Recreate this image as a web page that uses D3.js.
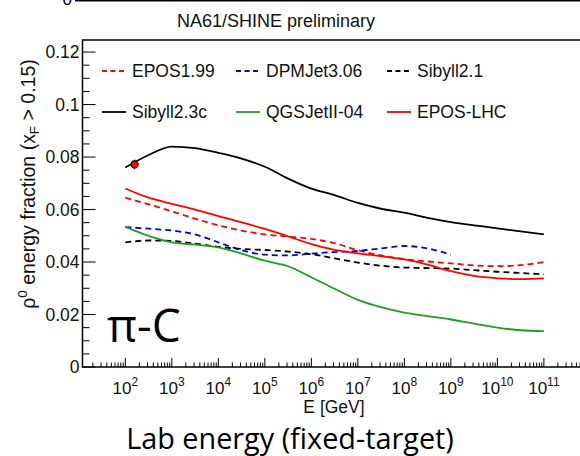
<!DOCTYPE html>
<html>
<head>
<meta charset="utf-8">
<script src="https://cdn.jsdelivr.net/npm/d3@7"></script>
<style>
  html, body { margin: 0; padding: 0; background: #fff; }
  svg { display: block; }
</style>
</head>
<body>
<svg id="chart" width="580" height="456"></svg>
<script>
// Lab-frame beam energies (GeV) at which the model curves are sampled
const logE = [2, 2.5, 3, 3.5, 4, 4.5, 5, 5.5, 6, 6.5, 7, 7.5, 8, 8.5, 9, 9.5, 10, 10.5, 11];
const energies = logE.map(l => Math.pow(10, l));

// rho0 energy fraction (xF > 0.15) predicted by each interaction model
const epos199   = [0.0645, 0.0620, 0.0593, 0.0565, 0.0540, 0.0520, 0.0505, 0.0497, 0.0488, 0.0472, 0.0445, 0.0425, 0.0411, 0.0402, 0.0395, 0.0387, 0.0384, 0.0388, 0.0400];
const dpmjet306 = [0.0533, 0.0527, 0.0520, 0.0505, 0.0475, 0.0445, 0.0428, 0.0425, 0.0432, 0.0438, 0.0442, 0.0452, 0.0461, 0.0452, 0.0428];
const sibyll21  = [0.0475, 0.0482, 0.0480, 0.0470, 0.0458, 0.0450, 0.0446, 0.0440, 0.0430, 0.0414, 0.0398, 0.0386, 0.0379, 0.0377, 0.0375, 0.0369, 0.0363, 0.0358, 0.0353];
const sibyll23c = [0.0760, 0.0808, 0.0840, 0.0834, 0.0816, 0.0794, 0.0763, 0.0718, 0.0680, 0.0655, 0.0625, 0.0603, 0.0588, 0.0568, 0.0552, 0.0540, 0.0528, 0.0517, 0.0505];
const qgsjet04  = [0.0534, 0.0500, 0.0475, 0.0466, 0.0456, 0.0432, 0.0405, 0.0384, 0.0342, 0.0298, 0.0256, 0.0228, 0.0207, 0.0194, 0.0181, 0.0165, 0.0150, 0.0140, 0.0137];
const eposLHC   = [0.0680, 0.0645, 0.0622, 0.0600, 0.0575, 0.0551, 0.0526, 0.0498, 0.0468, 0.0446, 0.0433, 0.0422, 0.0410, 0.0390, 0.0365, 0.0347, 0.0338, 0.0335, 0.0338];

// NA61/SHINE measurement at 158 GeV/c
const dataE = [158];
const dataV = [0.0772];
const dataErr = [0.0018];

// Tick labels
const yTickValues = [0, 0.02, 0.04, 0.06, 0.08, 0.1, 0.12];
const yTickLabels = ["0", "0.02", "0.04", "0.06", "0.08", "0.1", "0.12"];
const xTickExponents = ["2", "3", "4", "5", "6", "7", "8", "9", "10", "11"];

const models = [
  { name: "EPOS1.99",    values: epos199,   color: "#ff0000", dash: "6,4" },
  { name: "DPMJet3.06",  values: dpmjet306, color: "#0000ff", dash: "6,4" },
  { name: "Sibyll2.1",   values: sibyll21,  color: "#000000", dash: "6,4" },
  { name: "Sibyll2.3c",  values: sibyll23c, color: "#000000", dash: null },
  { name: "QGSJetII-04", values: qgsjet04,  color: "#1f9e1f", dash: null },
  { name: "EPOS-LHC",    values: eposLHC,   color: "#ff0000", dash: null }
];

const svg = d3.select("#chart");
const FONT = "'Liberation Sans', Arial, Helvetica, sans-serif";
const CAPTION_FONT = "'Open Sans', 'Noto Sans', sans-serif";

const frameL = 82.5, frameR = 600, frameT = 40, frameB = 367;

const x = d3.scaleLog().domain([12, 6.6e11]).range([frameL, 582]);
const y = d3.scaleLinear().domain([0, 0.1246]).range([frameB, frameT]);

// Remnant of the panel above: its lower frame edge and "0" label
svg.append("line").attr("x1", 75).attr("x2", 580).attr("y1", 0.5).attr("y2", 0.5)
  .attr("stroke", "#000").attr("stroke-width", 2);
svg.append("text").attr("x", 72).attr("y", 5).attr("text-anchor", "end")
  .attr("font-family", FONT).attr("font-size", 17).text("0");

// Title
svg.append("text").attr("x", 276).attr("y", 27).attr("text-anchor", "middle")
  .attr("font-family", FONT).attr("font-size", 18).attr("fill", "#111")
  .text("NA61/SHINE preliminary");

const plot = svg.append("g");

// Model curves
const line = d3.line()
  .x((d, i) => x(energies[i]))
  .y(d => y(d))
  .curve(d3.curveMonotoneX);

models.forEach(m => {
  plot.append("path")
    .datum(m.values)
    .attr("d", line)
    .attr("fill", "none")
    .attr("stroke", m.color)
    .attr("stroke-width", 1.8)
    .attr("stroke-dasharray", m.dash);
});

// Data point with error bar
dataE.forEach((e, i) => {
  plot.append("line")
    .attr("x1", x(e)).attr("x2", x(e))
    .attr("y1", y(dataV[i] + dataErr[i])).attr("y2", y(dataV[i] - dataErr[i]))
    .attr("stroke", "#000").attr("stroke-width", 1.2);
  plot.append("circle")
    .attr("cx", x(e)).attr("cy", y(dataV[i])).attr("r", 3.6)
    .attr("fill", "#ff0000").attr("stroke", "#000").attr("stroke-width", 1.2);
});

// Frame
svg.append("path")
  .attr("d", `M${frameR},${frameT}H${frameL}V${frameB}H${frameR}`)
  .attr("fill", "none").attr("stroke", "#000").attr("stroke-width", 1.5);

// Y axis: major ticks every 0.02, minor every 0.005 (drawn inward)
const yMinor = d3.range(0, 0.1246, 0.005);
svg.append("g").selectAll("line").data(yMinor).join("line")
  .attr("x1", frameL).attr("x2", d => frameL + (Math.abs(d / 0.02 - Math.round(d / 0.02)) < 1e-6 ? 13 : 7))
  .attr("y1", d => y(d)).attr("y2", d => y(d))
  .attr("stroke", "#000").attr("stroke-width", 1);

const yAxisLabels = svg.append("g");
yTickValues.forEach((v, i) => {
  yAxisLabels.append("text")
    .attr("x", frameL - 3).attr("y", y(v) + 6)
    .attr("text-anchor", "end")
    .attr("font-family", FONT).attr("font-size", 17.5).attr("fill", "#111")
    .text(yTickLabels[i]);
});

// X axis: decade and sub-decade ticks (drawn inward)
const xTicks = [];
for (let k = 1; k <= 11; k++) {
  for (let m = 1; m <= 9; m++) {
    const v = m * Math.pow(10, k);
    if (v >= x.domain()[0] && v <= x.domain()[1]) xTicks.push({ v, major: m === 1 });
  }
}
svg.append("g").selectAll("line").data(xTicks).join("line")
  .attr("x1", d => x(d.v)).attr("x2", d => x(d.v))
  .attr("y1", frameB).attr("y2", d => frameB - (d.major ? 9 : 4.5))
  .attr("stroke", "#000").attr("stroke-width", 1);

const xAxisLabels = svg.append("g");
xTickExponents.forEach(ex => {
  const px = x(Math.pow(10, +ex));
  const t = xAxisLabels.append("text")
    .attr("x", px).attr("y", 394)
    .attr("text-anchor", "middle")
    .attr("font-family", FONT).attr("font-size", 17).attr("fill", "#111");
  t.append("tspan").text("10");
  t.append("tspan").attr("dy", -8).attr("font-size", 12).text(ex);
});

// Axis titles
svg.append("text").attr("x", 334).attr("y", 413).attr("text-anchor", "middle")
  .attr("font-family", FONT).attr("font-size", 17.5).attr("fill", "#111")
  .text("E [GeV]");

const yTitle = svg.append("text")
  .attr("transform", "translate(35,184) rotate(-90)")
  .attr("text-anchor", "middle")
  .attr("font-family", FONT).attr("font-size", 19.5).attr("fill", "#111");
yTitle.append("tspan").text("\u03C1");
yTitle.append("tspan").attr("dy", -8).attr("font-size", 13.5).text("0");
yTitle.append("tspan").attr("dy", 8).text(" energy fraction (x");
yTitle.append("tspan").attr("dy", 4).attr("font-size", 13.5).text("F");
yTitle.append("tspan").attr("dy", -4).text(" > 0.15)");

// Legend: two rows of three entries
const legendCols = [102, 236, 387];
const legendRows = [71, 112];
models.forEach((m, i) => {
  const lx = legendCols[i % 3], ly = legendRows[Math.floor(i / 3)];
  svg.append("line")
    .attr("x1", lx).attr("x2", lx + 24).attr("y1", ly).attr("y2", ly)
    .attr("stroke", m.color).attr("stroke-width", 1.8)
    .attr("stroke-dasharray", m.dash ? "5,3.5" : null);
  svg.append("text")
    .attr("x", lx + 30).attr("y", ly + 6)
    .attr("font-family", FONT).attr("font-size", 17.5).attr("fill", "#111")
    .text(m.name);
});

// Collision system label and overall caption
svg.append("text").attr("x", 107).attr("y", 342)
  .attr("font-family", CAPTION_FONT).attr("font-size", 46).attr("fill", "#000")
  .text("\u03C0-C");

svg.append("text").attr("x", 290).attr("y", 449).attr("text-anchor", "middle")
  .attr("font-family", CAPTION_FONT).attr("font-size", 28.8).attr("fill", "#000")
  .text("Lab energy (fixed-target)");
</script>
</body>
</html>
